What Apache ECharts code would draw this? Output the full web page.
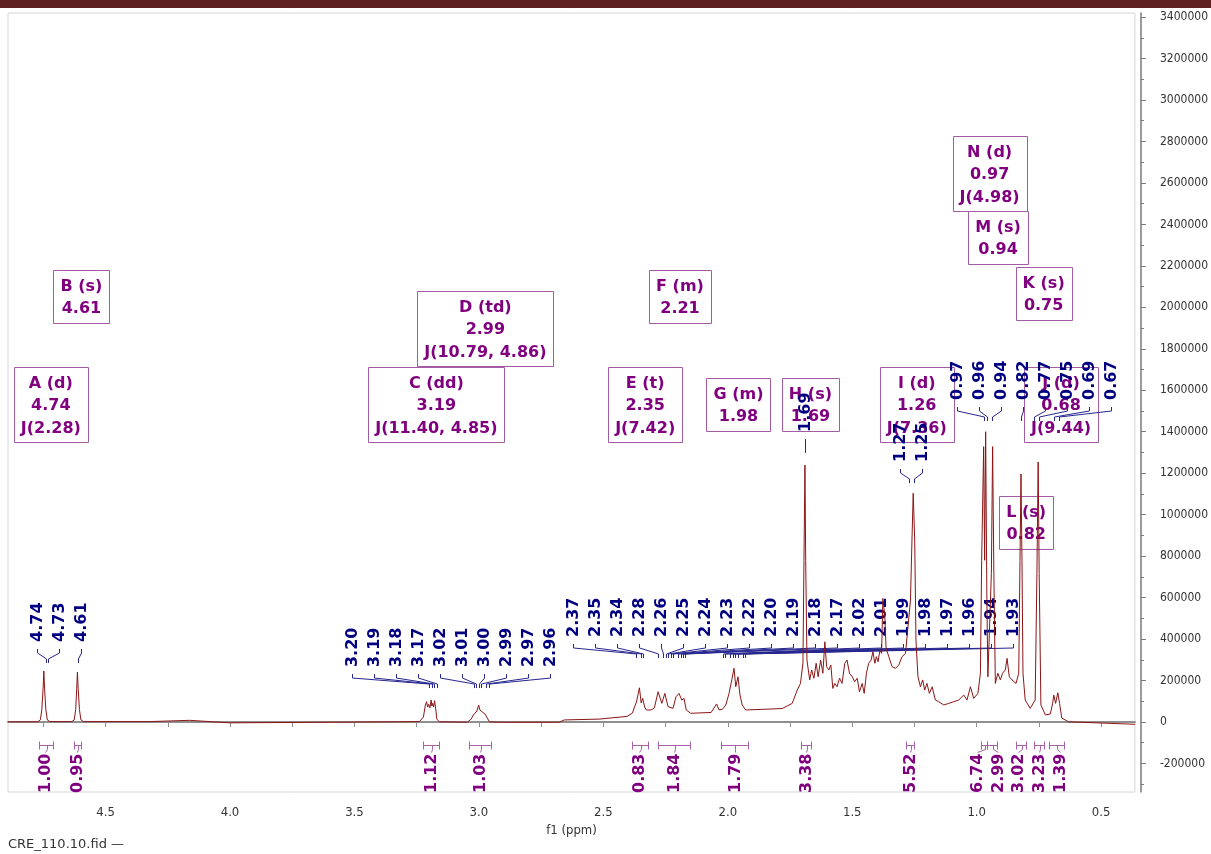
<!DOCTYPE html>
<html><head><meta charset="utf-8">
<script src="https://cdn.jsdelivr.net/npm/echarts@6/dist/echarts.min.js"></script>
<style>html,body{margin:0;padding:0;background:#fff}#c{width:1211px;height:854px}</style>
</head><body><div id="c"></div>
<script>
// ---------- spectrum (chemical shift ppm, intensity) ----------
const spectrumPpm = [4.892,4.772,4.762,4.756,4.751,4.748,4.745,4.740,4.734,4.724,4.636,4.626,4.620,4.616,4.613,4.610,4.605,4.599,4.588,4.323,4.162,4.002,3.600,3.319,3.239,3.223,3.215,3.210,3.206,3.202,3.197,3.192,3.189,3.186,3.182,3.178,3.173,3.169,3.159,3.047,3.031,3.022,3.014,3.008,3.001,2.996,2.992,2.986,2.981,2.976,2.972,2.966,2.958,2.918,2.677,2.657,2.517,2.405,2.383,2.375,2.367,2.362,2.355,2.348,2.342,2.334,2.327,2.308,2.295,2.280,2.265,2.253,2.240,2.232,2.220,2.208,2.196,2.185,2.176,2.167,2.149,2.067,2.045,2.035,2.022,2.008,1.995,1.984,1.975,1.968,1.959,1.951,1.942,1.928,1.862,1.781,1.741,1.721,1.708,1.698,1.694,1.690,1.687,1.682,1.671,1.663,1.654,1.645,1.637,1.627,1.618,1.610,1.603,1.594,1.586,1.578,1.570,1.561,1.551,1.541,1.530,1.521,1.511,1.500,1.490,1.480,1.471,1.460,1.452,1.443,1.434,1.424,1.417,1.409,1.403,1.396,1.389,1.382,1.377,1.369,1.364,1.353,1.340,1.326,1.313,1.300,1.286,1.276,1.266,1.260,1.255,1.249,1.244,1.236,1.226,1.217,1.209,1.200,1.190,1.179,1.166,1.153,1.132,1.112,1.092,1.072,1.052,1.039,1.025,1.012,0.995,0.985,0.980,0.972,0.968,0.964,0.959,0.955,0.948,0.941,0.936,0.931,0.925,0.915,0.905,0.896,0.885,0.878,0.869,0.858,0.842,0.831,0.826,0.822,0.818,0.814,0.805,0.785,0.765,0.758,0.753,0.749,0.742,0.724,0.704,0.695,0.690,0.683,0.674,0.667,0.658,0.631,0.363];
const spectrumIntensity = [1000,1000,10000,60000,160000,246000,160000,60000,10000,2000,2000,10000,60000,160000,241000,160000,60000,10000,2000,2000,8000,-4000,-1000,1000,2000,24000,82000,98000,72000,85000,68000,106000,77000,90000,72000,103000,58000,14000,1000,-1000,14000,34000,43000,53000,82000,58000,66000,48000,55000,39000,43000,19000,1000,-1000,-1000,10000,14000,27000,43000,72000,96000,87000,165000,92000,114000,72000,58000,58000,68000,146000,90000,138000,74000,82000,66000,122000,138000,106000,114000,58000,42000,46000,87000,58000,61000,82000,138000,203000,259000,170000,218000,130000,82000,58000,61000,65000,90000,154000,186000,285000,780000,1239000,780000,299000,203000,251000,211000,283000,218000,299000,235000,387000,267000,251000,275000,162000,186000,170000,211000,186000,283000,299000,235000,218000,194000,211000,146000,186000,138000,235000,283000,299000,339000,283000,315000,291000,347000,331000,596000,508000,355000,315000,267000,259000,275000,315000,331000,459000,588000,878000,1103000,878000,395000,218000,170000,203000,154000,186000,138000,170000,106000,98000,82000,90000,98000,106000,130000,106000,170000,114000,138000,235000,780000,1328000,780000,1400000,588000,218000,218000,717000,1328000,717000,186000,235000,203000,235000,251000,307000,218000,203000,186000,235000,780000,1196000,780000,235000,106000,66000,106000,717000,1254000,717000,82000,34000,39000,90000,130000,90000,141000,90000,19000,1000,-11000];

// ---------- axis ticks ----------
const xTickLabels = [0.5,1.0,1.5,2.0,2.5,3.0,3.5,4.0,4.5];
const xTicks = [0.5,0.75,1.0,1.25,1.5,1.75,2.0,2.25,2.5,2.75,3.0,3.25,3.5,3.75,4.0,4.25,4.5,4.75];
const yTickLabels = [-200000,0,200000,400000,600000,800000,1000000,1200000,1400000,1600000,1800000,2000000,2200000,2400000,2600000,2800000,3000000,3200000,3400000];
const yMinorTicks = [-300000,-100000,100000,300000,500000,700000,900000,1100000,1300000,1500000,1700000,1900000,2100000,2300000,2500000,2700000,2900000,3100000,3300000];

// ---------- peak picking labels ----------
const peakLabelsA = [4.74,4.73,4.61];
const peakLabelsC = [3.20,3.19,3.18,3.17,3.02,3.01,3.00,2.99,2.97,2.96];
const peakLabelsE = [2.37,2.35,2.34,2.28,2.26,2.25,2.24,2.23,2.22,2.20,2.19,2.18,2.17,2.02,2.01,1.99,1.98,1.97,1.96,1.94,1.93];
const peakLabelsH = [1.69];
const peakLabelsI = [1.27,1.25];
const peakLabelsN = [0.97,0.96,0.94,0.82,0.77,0.75,0.69,0.67];
const peakGroupStartPpm = [4.776,3.510,2.621,1.690,1.309,1.078];
const peakGroupLevel = [386000,265000,410000,1399000,1254000,1553000];

// ---------- multiplet reports ----------
const multipletNames = ['A (d)','B (s)','C (dd)','D (td)','E (t)','F (m)','G (m)','H (s)','I (d)','J (d)','K (s)','L (s)','M (s)','N (d)'];
const multipletShifts = ['4.74','4.61','3.19','2.99','2.35','2.21','1.98','1.69','1.26','0.68','0.75','0.82','0.94','0.97'];
const multipletJ = ['J(2.28)','','J(11.40, 4.85)','J(10.79, 4.86)','J(7.42)','','','','J(7.36)','J(9.44)','','','','J(4.98)'];
const multipletBoxPpm = [4.720,4.597,3.171,2.974,2.332,2.192,1.957,1.668,1.241,0.661,0.731,0.801,0.914,0.948];
const multipletBoxTop = [1712000,2180000,1712000,2079000,1712000,2180000,1659000,1659000,1712000,1712000,2194000,1090000,2465000,2826000];

// ---------- integrals ----------
const integralValues = ['1.00','0.95','1.12','1.03','0.83','1.84','1.79','3.38','5.52','6.74','2.99','3.02','3.23','1.39'];
const integralFrom = [4.768,4.628,3.223,3.039,2.386,2.279,2.027,1.705,1.282,0.981,0.959,0.842,0.771,0.708];
const integralTo = [4.711,4.597,3.159,2.950,2.320,2.153,1.918,1.667,1.250,0.959,0.919,0.802,0.731,0.651];
const integralLabelPpm = [4.742,4.613,3.191,2.995,2.358,2.216,1.973,1.686,1.266,1.000,0.916,0.834,0.751,0.667];

// ---------- build ----------
const peakGroups = [peakLabelsA,peakLabelsC,peakLabelsE,peakLabelsH,peakLabelsI,peakLabelsN];
const spectrum = spectrumPpm.map((p,i)=>[p, spectrumIntensity[i]]);
const BOLD = 'bold 16px "DejaVu Sans", Verdana, sans-serif';
const AXFONT = '"DejaVu Sans Condensed", "Liberation Sans Narrow", "Liberation Sans", sans-serif';
const NAVY = '#000080', PURPLE = '#800080';
const INTEGRAL_LEVEL = -113000;
const LABEL_STEP = 22;

const mctx = document.createElement('canvas').getContext('2d');
mctx.font = BOLD;
const tw = t => mctx.measureText(t).width;

function renderPeaks(params, api){
  const gi = params.dataIndex;
  const start = api.coord([peakGroupStartPpm[gi], peakGroupLevel[gi]]);
  const ch = [];
  peakGroups[gi].forEach((v,i)=>{
    const lx = Math.round(start[0] + i*LABEL_STEP) + 0.5;
    const by = start[1];
    const px = Math.round(api.coord([v,0])[0]) + 0.5;
    ch.push({type:'polyline', shape:{points:[[lx,by+7],[lx,by+11],[px,by+17],[px,by+21]]},
      style:{stroke:'#26268f', lineWidth:1, fill:null}});
    ch.push({type:'text', x:lx, y:by, rotation:Math.PI/2,
      style:{text:v.toFixed(2), fill:NAVY, font:BOLD, align:'left', verticalAlign:'middle'}});
  });
  return {type:'group', children:ch};
}

function renderBoxes(params, api){
  const i = params.dataIndex;
  const p = api.coord([multipletBoxPpm[i], multipletBoxTop[i]]);
  const lines = [multipletNames[i], multipletShifts[i]];
  if (multipletJ[i]) lines.push(multipletJ[i]);
  const w = Math.round(Math.max(...lines.map(tw)) + 14);
  const h = lines.length === 3 ? 75 : 53;
  const x0 = Math.round(p[0] - w/2) + 0.5, y0 = Math.round(p[1]) + 0.5;
  const ch = [{type:'rect', shape:{x:x0, y:y0, width:w, height:h},
    style:{fill:'rgba(255,255,255,0)', stroke:'#a35ca3', lineWidth:1}}];
  lines.forEach((t,k)=>{
    ch.push({type:'text', x:p[0], y:y0 + 16 + k*22.5,
      style:{text:t, fill:PURPLE, font:BOLD, align:'center', verticalAlign:'middle'}});
  });
  return {type:'group', children:ch};
}

function renderIntegrals(params, api){
  const i = params.dataIndex;
  const a = api.coord([integralFrom[i], INTEGRAL_LEVEL]);
  const b = api.coord([integralTo[i], INTEGRAL_LEVEL]);
  const lx = Math.round(api.coord([integralLabelPpm[i], 0])[0]) + 0.5;
  const y = Math.round(a[1]) + 0.5;
  const x1 = Math.round(a[0]) + 0.5, x2 = Math.round(b[0]) + 0.5;
  const xm = Math.round((x1 + x2)/2) + 0.5;
  const st = {stroke:'#a860a8', lineWidth:1, fill:null};
  return {type:'group', children:[
    {type:'line', shape:{x1:x1, y1:y, x2:x2, y2:y}, style:st},
    {type:'line', shape:{x1:x1, y1:y-4, x2:x1, y2:y+4}, style:st},
    {type:'line', shape:{x1:x2, y1:y-4, x2:x2, y2:y+4}, style:st},
    {type:'polyline', shape:{points:[[xm,y],[xm,y+4],[lx,y+7]]}, style:st},
    {type:'text', x:lx, y:y+8, rotation:Math.PI/2,
      style:{text:integralValues[i], fill:PURPLE, font:BOLD, align:'right', verticalAlign:'middle'}}
  ]};
}

const chart = echarts.init(document.getElementById('c'), null, {renderer:'canvas'});
const yMin = -337600, yMax = 3419500;
chart.setOption({
  animation:false,
  backgroundColor:'#fff',
  graphic:[
    {type:'rect', left:0, top:0, shape:{width:1211, height:8}, style:{fill:'#5f2121'}, z:100},
    {type:'text', left:8, top:838, style:{text:'CRE_110.10.fid —', fill:'#333', font:'13px "DejaVu Sans", Verdana, sans-serif'}}
  ],
  grid:{left:8, right:74.5, top:13, bottom:62, show:true, borderColor:'#d6d6d6', borderWidth:1, containLabel:false},
  xAxis:{
    type:'value', min:0.3642, max:4.892, inverse:true, position:'bottom', offset:6,
    name:'f1 (ppm)', nameLocation:'middle', nameGap:26,
    nameTextStyle:{color:'#333', fontSize:13, fontFamily:AXFONT},
    axisLine:{show:true, lineStyle:{color:'#8f8f8f', width:2}},
    axisTick:{show:true, length:5, customValues:xTicks, lineStyle:{color:'#8f8f8f'}},
    axisLabel:{show:true, customValues:xTickLabels, margin:8, color:'#333', fontSize:13, fontFamily:AXFONT,
      formatter:v=>Number(v).toFixed(1)},
    splitLine:{show:false}
  },
  yAxis:[{
    type:'value', min:yMin, max:yMax, position:'right', offset:6,
    axisLine:{show:true, lineStyle:{color:'#7a7a7a', width:1.5}},
    axisTick:{show:true, length:5, customValues:yTickLabels, lineStyle:{color:'#7a7a7a'}},
    axisLabel:{show:true, customValues:yTickLabels, margin:19, color:'#333', fontSize:12, fontFamily:AXFONT,
      formatter:v=>String(Math.round(v))},
    splitLine:{show:false}
  },{
    type:'value', min:yMin, max:yMax, position:'right', offset:6,
    axisLine:{show:false},
    axisTick:{show:true, length:3, customValues:yMinorTicks, lineStyle:{color:'#7a7a7a'}},
    axisLabel:{show:false}, splitLine:{show:false}
  }],
  series:[
    {type:'custom', name:'multiplets', renderItem:renderBoxes, z:2,
      data:multipletBoxPpm.map((p,i)=>[p, multipletBoxTop[i]]), encode:{x:0,y:1}, silent:true},
    {type:'custom', name:'integrals', renderItem:renderIntegrals, z:3,
      data:integralFrom.map((p,i)=>[p, INTEGRAL_LEVEL]), encode:{x:0,y:1}, silent:true},
    {type:'custom', name:'peaks', renderItem:renderPeaks, z:4,
      data:peakGroupStartPpm.map((p,i)=>[p, peakGroupLevel[i]]), encode:{x:0,y:1}, silent:true},
    {type:'line', name:'CRE_110.10.fid', data:spectrum, showSymbol:false, symbol:'none', z:5,
      lineStyle:{color:'#8b1515', width:1}, sampling:null, silent:true}
  ]
});
</script>
</body></html>
